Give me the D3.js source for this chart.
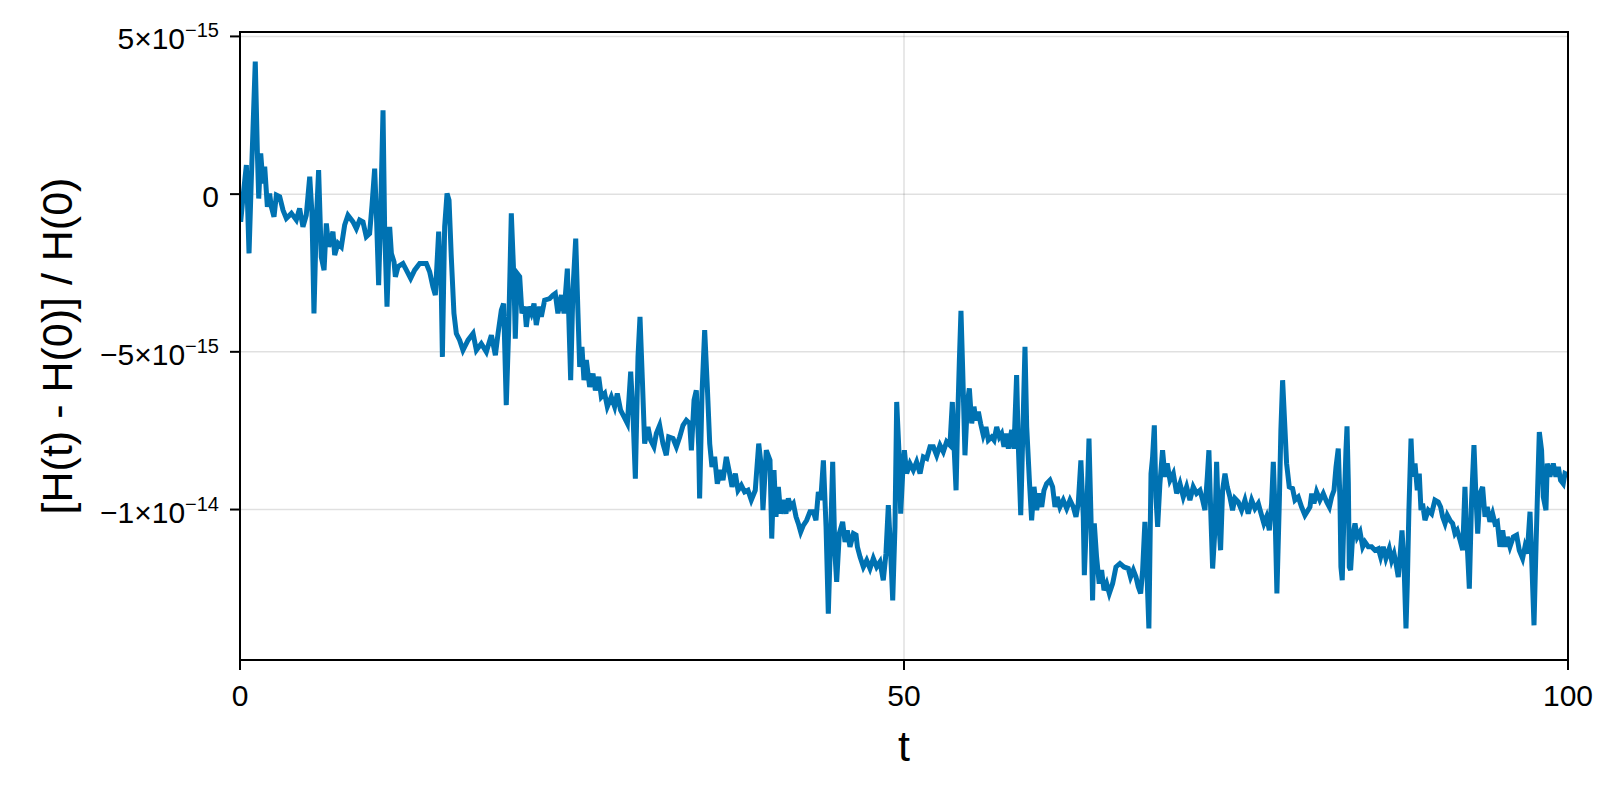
<!DOCTYPE html>
<html lang="en">
<head>
<meta charset="UTF-8">
<title>Relative energy error</title>
<style>
  body { margin: 0; background: #fff; }
  #svg { display: block; font-family: 'Liberation Sans', Arial, sans-serif; }
</style>
</head>
<body>
<svg id="svg" width="1600" height="800"></svg>
<script src="https://d3js.org/d3.v7.min.js"></script>
<script>
// values, [t, (H(t)-H(0))/H(0) in units of 1e-15]
const UNIT = 1e-15

const seg0to20 = [[0,0],[0.05,-0.88],[0.23,-0.08],[0.48,0.92],[0.68,-1.88],[0.85,0.44],[0.98,2.08],[1.15,4.2],[1.31,1.29],[1.41,-0.14],[1.56,1.29],[1.73,0.34],[1.86,0.87],[2.06,-0.4],[2.23,0.02],[2.36,-0.4],[2.56,-0.72],[2.74,-0.03],[2.99,-0.08],[3.24,-0.51],[3.49,-0.77],[3.87,-0.61],[4.24,-0.82],[4.49,-0.45],[4.74,-1.04],[4.99,-0.67],[5.25,0.55],[5.42,-0.61],[5.57,-3.78],[5.75,-0.82],[5.92,0.76],[6.12,-1.99],[6.33,-2.41],[6.5,-0.93],[6.68,-1.67],[7.0,-1.19],[7.13,-1.93],[7.38,-1.56],[7.63,-1.67],[7.88,-0.98],[8.13,-0.67],[8.51,-0.88],[8.76,-1.09],[9.01,-0.82],[9.26,-0.88],[9.51,-1.35],[9.76,-1.25],[9.94,-0.35],[10.14,0.81],[10.27,-0.61],[10.44,-2.89],[10.59,-0.61],[10.77,2.66],[10.89,-1.04],[11.07,-3.57],[11.27,-1.04],[11.4,-1.88],[11.6,-2.15],[11.7,-2.62],[11.9,-2.3],[12.27,-2.2],[12.53,-2.41],[12.85,-2.67],[13.15,-2.41],[13.53,-2.2],[14.03,-2.2],[14.28,-2.46],[14.53,-2.94],[14.71,-3.2],[14.96,-1.19],[15.16,-3.15],[15.24,-5.16],[15.41,-1.04],[15.59,0.02],[15.74,-0.19],[15.91,-1.99],[16.11,-3.78],[16.29,-4.42],[16.54,-4.63],[16.79,-4.95],[17.17,-4.63],[17.55,-4.42],[17.8,-4.95],[18.17,-4.74],[18.55,-5.0],[18.93,-4.47],[19.23,-5.11],[19.43,-4.42],[19.68,-3.68],[19.85,-3.47],[20.05,-6.69],[20.23,-4.31],[20.43,-0.61]]

const seg20to40 = [[20.63,-2.73],[20.73,-4.58],[20.88,-2.52],[21.06,-2.62],[21.23,-3.78],[21.44,-3.57],[21.56,-4.21],[21.74,-3.57],[21.94,-3.78],[22.14,-3.47],[22.31,-4.15],[22.56,-3.57],[22.69,-3.89],[22.94,-3.36],[23.32,-3.31],[23.57,-3.2],[23.74,-3.15],[23.94,-3.78],[24.2,-3.2],[24.4,-3.78],[24.65,-2.36],[24.75,-3.78],[24.9,-5.9],[25.07,-3.04],[25.28,-1.41],[25.45,-3.78],[25.58,-5.48],[25.75,-4.84],[25.9,-5.9],[26.08,-5.26],[26.33,-6.11],[26.58,-5.69],[26.76,-6.22],[27.01,-5.79],[27.21,-6.43],[27.46,-6.32],[27.66,-6.74],[27.96,-6.43],[28.21,-6.74],[28.41,-6.32],[28.66,-6.85],[28.92,-7.06],[29.17,-7.27],[29.42,-5.63],[29.59,-6.96],[29.77,-9.02],[29.97,-5.16],[30.12,-3.89],[30.3,-5.9],[30.47,-7.91],[30.72,-7.38],[30.92,-7.8],[31.17,-8.01],[31.35,-7.59],[31.6,-7.33],[31.85,-7.91],[32.1,-8.28],[32.28,-7.7],[32.61,-7.75],[32.86,-8.01],[33.11,-7.7],[33.36,-7.33],[33.61,-7.17],[33.86,-7.27],[33.99,-8.12],[34.19,-6.53],[34.36,-6.22],[34.54,-8.01],[34.61,-9.65],[34.79,-6.32],[34.99,-4.31],[35.19,-6.11],[35.37,-7.91],[35.54,-8.65],[35.74,-8.33],[35.94,-9.18],[36.19,-8.75],[36.37,-9.07],[36.62,-8.33],[36.87,-8.86],[37.05,-9.28],[37.3,-8.86],[37.5,-9.39],[37.75,-9.23],[38.0,-9.44],[38.25,-9.39],[38.5,-9.7],[38.8,-9.39],[39.06,-7.91],[39.26,-8.65],[39.38,-10.02],[39.63,-8.12]]

const seg40to60 = [[39.91,-8.44],[40.04,-10.92],[40.21,-8.75],[40.36,-10.23],[40.54,-9.28],[40.71,-10.13],[40.91,-9.7],[41.11,-10.13],[41.29,-9.65],[41.47,-9.92],[41.67,-9.81],[41.87,-10.23],[42.04,-10.44],[42.22,-10.71],[42.42,-10.5],[42.67,-10.34],[42.92,-10.07],[43.17,-10.07],[43.37,-10.34],[43.55,-9.44],[43.73,-9.7],[43.93,-8.44],[44.13,-10.55],[44.3,-13.3],[44.48,-10.76],[44.63,-8.49],[44.8,-11.4],[44.93,-12.29],[45.13,-10.76],[45.38,-10.39],[45.56,-11.03],[45.73,-10.66],[45.93,-11.18],[46.19,-10.76],[46.39,-10.81],[46.49,-11.18],[46.69,-11.5],[46.94,-11.82],[47.19,-11.61],[47.44,-11.87],[47.69,-11.55],[47.94,-11.82],[48.19,-11.66],[48.44,-12.24],[48.64,-11.4],[48.82,-9.86],[49.0,-11.4],[49.15,-12.88],[49.32,-10.55],[49.45,-6.59],[49.65,-8.44],[49.75,-10.13],[49.9,-8.86],[50.03,-8.12],[50.2,-8.86],[50.45,-8.54],[50.7,-8.75],[50.95,-8.49],[51.21,-8.86],[51.46,-8.33],[51.71,-8.38],[51.96,-8.01],[52.21,-8.01],[52.46,-8.28],[52.71,-7.96],[52.96,-8.17],[53.21,-7.85],[53.46,-7.96],[53.64,-6.59],[53.77,-8.01],[53.92,-9.39],[54.04,-7.17],[54.17,-5.26],[54.29,-3.7],[54.42,-5.58],[54.59,-8.28],[54.77,-6.64],[54.92,-6.16],[55.1,-7.27],[55.27,-6.74],[55.42,-7.17],[55.6,-6.9],[55.77,-7.27],[55.97,-7.64],[56.17,-7.38],[56.35,-7.8],[56.6,-7.7],[56.78,-7.8],[56.98,-7.38],[57.18,-7.7],[57.35,-7.59],[57.53,-8.01],[57.68,-7.59],[57.86,-8.07],[58.11,-7.48],[58.28,-8.07],[58.48,-5.74],[58.61,-8.01],[58.79,-10.18],[58.94,-7.7],[59.11,-4.84],[59.24,-7.38],[59.44,-9.07],[59.61,-10.34],[59.79,-9.28],[59.99,-10.02],[60.19,-9.49],[60.37,-9.92],[60.54,-9.39],[60.74,-9.18]]

const seg60to80 = [[60.99,-9.07],[61.19,-9.28],[61.37,-9.92],[61.54,-9.6],[61.74,-9.92],[61.99,-9.7],[62.25,-9.97],[62.5,-9.7],[62.75,-9.92],[62.95,-10.23],[63.12,-9.81],[63.32,-8.44],[63.5,-10.23],[63.58,-12.08],[63.75,-10.23],[63.93,-7.75],[64.08,-10.23],[64.2,-12.88],[64.33,-10.44],[64.5,-11.5],[64.7,-12.35],[64.88,-11.92],[65.06,-12.56],[65.26,-12.35],[65.46,-12.66],[65.71,-12.35],[65.96,-11.82],[66.26,-11.71],[66.56,-11.82],[66.89,-11.87],[67.06,-12.14],[67.27,-11.92],[67.47,-12.14],[67.64,-12.45],[67.82,-12.66],[67.97,-11.92],[68.14,-10.39],[68.27,-11.71],[68.44,-13.77],[68.6,-8.86],[68.72,-8.33],[68.85,-7.33],[68.97,-9.6],[69.1,-10.55],[69.27,-9.18],[69.47,-8.12],[69.65,-8.96],[69.82,-8.54],[70.03,-9.07],[70.28,-8.86],[70.53,-9.49],[70.78,-9.18],[71.03,-9.6],[71.28,-9.28],[71.53,-9.7],[71.78,-9.28],[72.03,-9.49],[72.29,-9.39],[72.49,-9.7],[72.66,-10.02],[72.84,-8.96],[72.96,-8.12],[73.11,-10.23],[73.24,-11.87],[73.41,-10.66],[73.54,-8.49],[73.67,-10.13],[73.84,-11.29],[73.99,-9.39],[74.17,-8.86],[74.34,-9.28],[74.54,-9.6],[74.74,-10.02],[74.92,-9.65],[75.17,-9.76],[75.42,-10.02],[75.67,-9.7],[75.92,-10.13],[76.18,-9.7],[76.43,-9.97],[76.68,-9.81],[76.85,-10.07],[77.1,-10.44],[77.3,-10.23],[77.51,-10.66],[77.68,-9.81],[77.81,-8.49],[77.93,-9.92],[78.08,-12.66],[78.26,-9.81],[78.38,-7.48],[78.51,-5.9],[78.63,-6.95],[78.81,-8.54],[79.01,-9.28],[79.26,-9.33],[79.44,-9.7],[79.69,-9.6],[79.94,-9.92],[80.19,-10.18]]

const seg80to100 = [[80.57,-9.92],[80.7,-9.49],[80.87,-9.81],[81.07,-9.44],[81.32,-9.7],[81.57,-9.49],[81.83,-9.76],[82.03,-9.92],[82.2,-9.6],[82.38,-9.39],[82.53,-8.65],[82.7,-8.07],[82.83,-9.7],[82.9,-11.82],[83.0,-12.24],[83.16,-9.7],[83.28,-8.12],[83.36,-7.36],[83.46,-9.18],[83.53,-11.82],[83.63,-11.92],[83.78,-10.87],[83.96,-10.44],[84.13,-10.87],[84.34,-10.71],[84.54,-11.18],[84.71,-11.03],[84.96,-11.18],[85.21,-11.18],[85.46,-11.29],[85.72,-11.24],[85.89,-11.5],[86.09,-11.18],[86.29,-11.55],[86.54,-11.24],[86.72,-11.61],[86.9,-11.4],[87.05,-11.71],[87.22,-12.14],[87.35,-11.5],[87.5,-10.66],[87.65,-11.71],[87.8,-13.77],[87.9,-12.35],[88.02,-10.02],[88.18,-7.75],[88.3,-8.96],[88.48,-8.54],[88.65,-9.39],[88.8,-8.86],[88.93,-10.02],[89.05,-9.81],[89.23,-10.34],[89.48,-10.02],[89.73,-10.13],[89.98,-9.7],[90.23,-9.76],[90.41,-9.92],[90.56,-10.23],[90.74,-10.44],[90.91,-10.18],[91.11,-10.34],[91.31,-10.44],[91.49,-10.76],[91.66,-10.66],[91.87,-10.97],[92.07,-11.29],[92.24,-9.28],[92.37,-10.76],[92.57,-12.51],[92.74,-9.7],[92.92,-7.96],[93.07,-9.6],[93.2,-10.76],[93.37,-9.49],[93.57,-9.28],[93.75,-10.23],[93.92,-9.92],[94.12,-10.39],[94.32,-10.13],[94.5,-10.44],[94.68,-10.39],[94.88,-11.18],[95.08,-10.66],[95.25,-11.18],[95.43,-10.87],[95.63,-11.18],[95.88,-10.87],[96.13,-10.81],[96.33,-11.29],[96.58,-11.55],[96.76,-11.18],[96.93,-11.4],[97.14,-10.07],[97.26,-11.5],[97.44,-13.67],[97.59,-11.18],[97.71,-9.39],[97.84,-7.54],[98.01,-8.12],[98.14,-9.6],[98.34,-10.02],[98.44,-8.54],[98.64,-8.96],[98.89,-8.54],[99.09,-8.96],[99.27,-8.65],[99.44,-9.07],[99.64,-9.18],[99.77,-8.86],[100,-8.91]]

const xTicks = [0, 50, 100]
const yTicks = [5e-15, 0, -5e-15, -1e-14]
const yTickBase = ['5×10', '0', '−5×10', '−1×10']
const yTickExp = ['−15', '', '−15', '−14']

const xLabel = 't'
const yLabel = '[H(t) - H(0)] / H(0)'

const data = [...seg0to20, ...seg20to40, ...seg40to60, ...seg60to80, ...seg80to100]
  .map(d => ({ t: d[0], h: d[1] * UNIT }))

// plot box in pixels
const box = { left: 240, right: 1568, top: 32, bottom: 660 }

const x = d3.scaleLinear().domain([0, 100]).range([box.left, box.right])
const y = d3.scaleLinear().domain([-14.77e-15, 5.14e-15]).range([box.bottom, box.top])

const svg = d3.select('#svg')

// grid
svg.append('g')
  .selectAll('line')
  .data(xTicks.filter(d => d > 0 && d < 100))
  .join('line')
  .attr('x1', d => x(d)).attr('x2', d => x(d))
  .attr('y1', box.top).attr('y2', box.bottom)
  .attr('stroke', 'rgba(0,0,0,0.12)')
  .attr('stroke-width', 1.5)

svg.append('g')
  .selectAll('line')
  .data(yTicks)
  .join('line')
  .attr('x1', box.left).attr('x2', box.right)
  .attr('y1', d => y(d)).attr('y2', d => y(d))
  .attr('stroke', 'rgba(0,0,0,0.12)')
  .attr('stroke-width', 1.5)

// the series, clipped to the plot box
svg.append('clipPath').attr('id', 'clip')
  .append('rect')
  .attr('x', box.left).attr('y', box.top)
  .attr('width', box.right - box.left).attr('height', box.bottom - box.top)

const line = d3.line()
  .x(d => x(d.t))
  .y(d => y(d.h))

svg.append('path')
  .datum(data)
  .attr('clip-path', 'url(#clip)')
  .attr('d', line)
  .attr('fill', 'none')
  .attr('stroke', '#0072b2')
  .attr('stroke-width', 5)
  .attr('stroke-linejoin', 'miter')
  .attr('stroke-miterlimit', 4)

// frame
svg.append('rect')
  .attr('x', box.left).attr('y', box.top)
  .attr('width', box.right - box.left).attr('height', box.bottom - box.top)
  .attr('fill', 'none')
  .attr('stroke', 'black')
  .attr('stroke-width', 2)

// x axis ticks + labels
const xAxis = svg.append('g')
xAxis.selectAll('line')
  .data(xTicks)
  .join('line')
  .attr('x1', d => x(d)).attr('x2', d => x(d))
  .attr('y1', box.bottom).attr('y2', box.bottom + 10)
  .attr('stroke', 'black')
  .attr('stroke-width', 2)

xAxis.selectAll('text')
  .data(xTicks)
  .join('text')
  .attr('x', d => x(d))
  .attr('y', box.bottom + 46)
  .attr('text-anchor', 'middle')
  .attr('font-size', 30)
  .text(d => d)

// y axis ticks + labels
const yAxis = svg.append('g')
yAxis.selectAll('line')
  .data(yTicks)
  .join('line')
  .attr('x1', box.left - 10).attr('x2', box.left)
  .attr('y1', d => y(d)).attr('y2', d => y(d))
  .attr('stroke', 'black')
  .attr('stroke-width', 2)

const yText = yAxis.selectAll('text')
  .data(yTicks)
  .join('text')
  .attr('x', box.left - 21)
  .attr('y', d => y(d) + 13)
  .attr('text-anchor', 'end')
  .attr('font-size', 30)

yText.append('tspan').text((d, i) => yTickBase[i])
yText.append('tspan')
  .attr('dy', -12)
  .attr('font-size', 20)
  .text((d, i) => yTickExp[i])

// axis titles
svg.append('text')
  .attr('x', (box.left + box.right) / 2)
  .attr('y', 761)
  .attr('text-anchor', 'middle')
  .attr('font-size', 43)
  .text(xLabel)

svg.append('text')
  .attr('transform', `translate(72, ${(box.top + box.bottom) / 2}) rotate(-90)`)
  .attr('text-anchor', 'middle')
  .attr('font-size', 43)
  .text(yLabel)
</script>
</body>
</html>
